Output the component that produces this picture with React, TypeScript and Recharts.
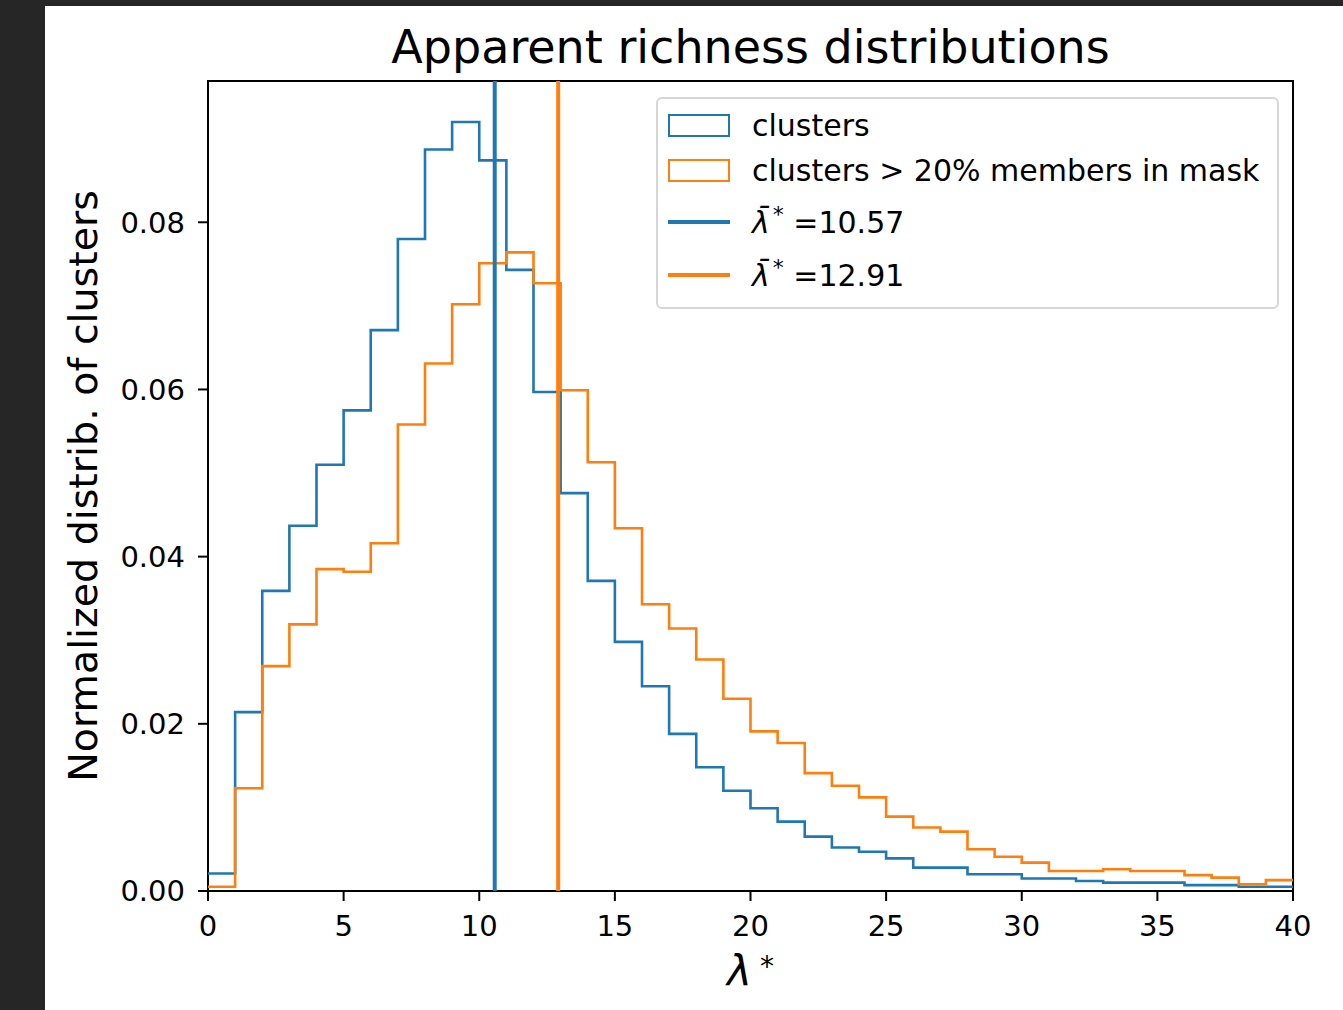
import React from "react";
import { LineChart, Line, XAxis, YAxis, ReferenceLine, ReferenceArea } from "recharts";

const BIN_EDGES = [
  0, 1, 2, 3, 4, 5, 6, 7, 8, 9, 10, 11, 12, 13, 14, 15, 16, 17, 18, 19, 20,
  21, 22, 23, 24, 25, 26, 27, 28, 29, 30, 31, 32, 33, 34, 35, 36, 37, 38, 39, 40,
];

// normalized counts per unit bin, all clusters
const CLUSTERS = [
  0.0021, 0.0214, 0.0359, 0.0437, 0.051, 0.0575, 0.0671, 0.078, 0.0887, 0.092,
  0.0874, 0.0743, 0.0597, 0.0476, 0.0371, 0.0298, 0.0245, 0.0188, 0.0148, 0.012,
  0.0099, 0.0083, 0.0065, 0.0052, 0.0047, 0.0039, 0.0028, 0.0028, 0.002, 0.002,
  0.0015, 0.0015, 0.0012, 0.001, 0.001, 0.001, 0.0007, 0.0007, 0.0005, 0.0005,
];

// clusters with > 20% members in mask
const MASKED = [
  0.0005, 0.0123, 0.0269, 0.0319, 0.0385, 0.0382, 0.0416, 0.0558, 0.0631, 0.0702,
  0.0751, 0.0764, 0.0727, 0.0599, 0.0513, 0.0434, 0.0343, 0.0314, 0.0277, 0.023,
  0.0191, 0.0177, 0.0141, 0.0126, 0.0112, 0.0089, 0.0076, 0.0071, 0.005, 0.0041,
  0.0034, 0.0024, 0.0024, 0.0026, 0.0024, 0.0024, 0.0019, 0.0016, 0.0008, 0.0013,
];

const MEAN_CLUSTERS = 10.57;
const MEAN_MASKED = 12.91;

const X_TICKS = [0, 5, 10, 15, 20, 25, 30, 35, 40];
const Y_TICKS = [0, 0.02, 0.04, 0.06, 0.08];
const Y_MAX = 0.0969;

const BLUE = "#1f77b4";
const ORANGE = "#ff7f0e";
const FONT = "'DejaVu Sans', sans-serif";

const data = BIN_EDGES.map((x, i) => ({
  x,
  clusters: CLUSTERS[Math.min(i, CLUSTERS.length - 1)],
  masked: MASKED[Math.min(i, MASKED.length - 1)],
}));

const tickStyle = { fill: "#000", fontSize: 29, fontFamily: FONT };

function Lam() {
  return (
    <span>
      <i style={{ fontFamily: FONT }}>λ̄</i>
      <sup style={{ fontSize: 22, verticalAlign: 11, lineHeight: 0, marginLeft: 3 }}>*</sup>
    </span>
  );
}

function LegendBox() {
  const row = (top: number, swatch: React.ReactNode, label: React.ReactNode) => (
    <div style={{ position: "absolute", left: 0, top: top - 20, height: 40, display: "flex", alignItems: "center" }}>
      <div style={{ width: 94, boxSizing: "border-box", display: "flex", alignItems: "center", paddingLeft: 10 }}>{swatch}</div>
      <div style={{ whiteSpace: "nowrap" }}>{label}</div>
    </div>
  );
  const patch = (c: string) => (
    <div style={{ width: 58, height: 19, border: `2.5px solid ${c}`, boxSizing: "content-box" }} />
  );
  const line = (c: string) => <div style={{ width: 62, height: 4, background: c }} />;
  return (
    <div
      style={{
        position: "absolute", left: 611, top: 91, width: 619, height: 208,
        border: "2px solid #d6d6d6", borderRadius: 6, background: "rgba(255,255,255,0.8)",
        fontFamily: FONT, fontSize: 30, color: "#000",
      }}
    >
      {row(26, patch(BLUE), "clusters")}
      {row(71, patch(ORANGE), "clusters > 20% members in mask")}
      {row(123, line(BLUE), <span><Lam /> =10.57</span>)}
      {row(176, line(ORANGE), <span><Lam /> =12.91</span>)}
    </div>
  );
}

export default function App() {
  return (
    <div style={{ position: "absolute", left: 0, top: 0, width: 1343, height: 1010, background: "#262626", overflow: "hidden" }}>
      <div style={{ position: "absolute", left: 45, top: 6, width: 1338, height: 1004, background: "#fff" }}>
        <div
          style={{
            position: "absolute", left: 163, width: 1085, top: 13, textAlign: "center",
            fontFamily: FONT, fontSize: 46, color: "#000", lineHeight: "56px",
          }}
        >
          Apparent richness distributions
        </div>
        <div
          style={{
            position: "absolute", left: 38 - 300, top: 480 - 28, width: 600, textAlign: "center",
            transform: "rotate(-90deg)", fontFamily: FONT, fontSize: 39.5, lineHeight: "56px", color: "#000",
          }}
        >
          Normalized distrib. of clusters
        </div>
        <div
          style={{
            position: "absolute", left: 163, width: 1085, top: 942, textAlign: "center",
            fontFamily: FONT, fontSize: 42, color: "#000", lineHeight: "48px",
          }}
        >
          <i>λ</i>
          <sup style={{ fontSize: 28, verticalAlign: 10, lineHeight: 0, marginLeft: 8 }}>*</sup>
        </div>
        <LineChart width={1298} height={1004} data={data} margin={{ top: 75, right: 50, bottom: 59, left: 63 }}>
          <XAxis
            dataKey="x"
            type="number"
            domain={[0, 40]}
            ticks={X_TICKS}
            allowDataOverflow
            height={60}
            axisLine={false}
            tickSize={10}
            tickMargin={14}
            tickLine={{ stroke: "#000", strokeWidth: 2 }}
            tick={tickStyle}
          />
          <YAxis
            type="number"
            domain={[0, Y_MAX]}
            ticks={Y_TICKS}
            allowDataOverflow
            width={100}
            axisLine={false}
            tickSize={10}
            tickMargin={13}
            tickLine={{ stroke: "#000", strokeWidth: 2 }}
            tick={tickStyle}
            tickFormatter={(v: number) => v.toFixed(2)}
          />
          <Line
            dataKey="clusters"
            type="stepAfter"
            stroke={BLUE}
            strokeWidth={2.6}
            dot={false}
            activeDot={false}
            isAnimationActive={false}
          />
          <Line
            dataKey="masked"
            type="stepAfter"
            stroke={ORANGE}
            strokeWidth={2.6}
            dot={false}
            activeDot={false}
            isAnimationActive={false}
          />
          <ReferenceLine x={MEAN_CLUSTERS} stroke={BLUE} strokeWidth={4} />
          <ReferenceLine x={MEAN_MASKED} stroke={ORANGE} strokeWidth={4} />
          <ReferenceArea x1={0} x2={40} y1={0} y2={Y_MAX} fill="none" stroke="#000" strokeWidth={2} />
        </LineChart>
        <LegendBox />
      </div>
    </div>
  );
}
